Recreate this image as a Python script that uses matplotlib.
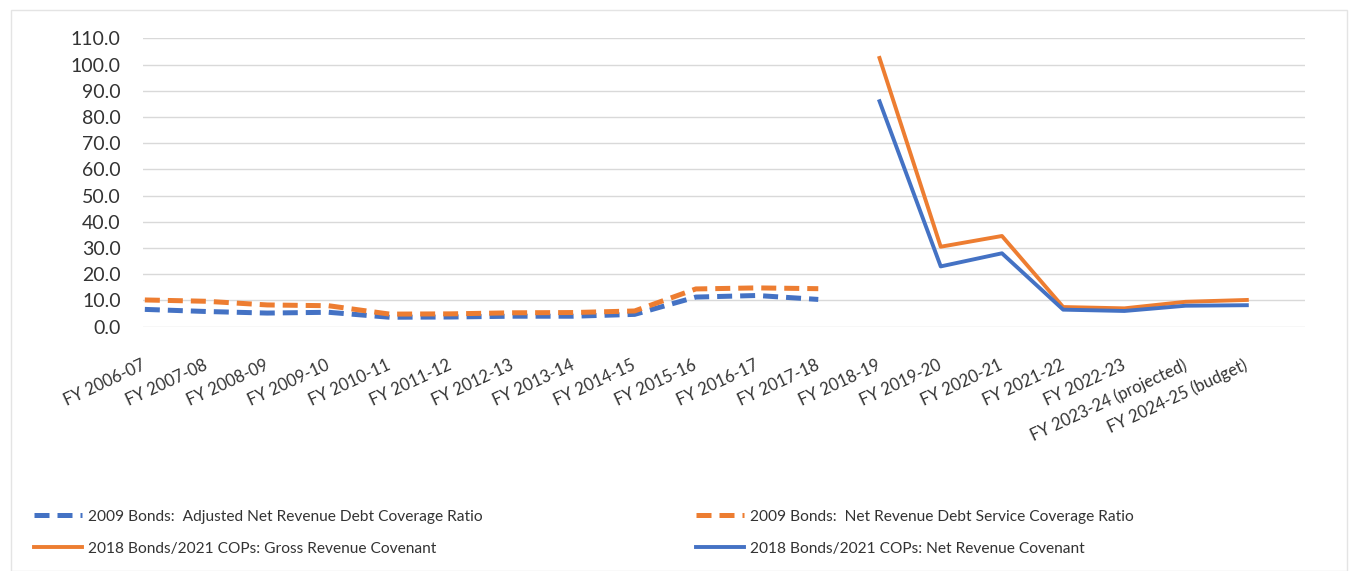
import numpy as np
import matplotlib.pyplot as plt
from matplotlib.ticker import FormatStrFormatter
from matplotlib.patches import Rectangle

plt.rcParams['font.family'] = ['Lato', 'DejaVu Sans']

years = ["FY 2006-07", "FY 2007-08", "FY 2008-09", "FY 2009-10", "FY 2010-11",
         "FY 2011-12", "FY 2012-13", "FY 2013-14", "FY 2014-15", "FY 2015-16",
         "FY 2016-17", "FY 2017-18", "FY 2018-19", "FY 2019-20", "FY 2020-21",
         "FY 2021-22", "FY 2022-23", "FY 2023-24 (projected)", "FY 2024-25 (budget)"]

# 2009 bonds (through FY 2017-18)
adjusted_net_2009 = [6.6, 5.8, 5.2, 5.5, 3.6, 3.7, 4.0, 4.0, 4.7, 11.3, 11.9, 10.4]
net_service_2009 = [10.2, 9.7, 8.3, 8.0, 4.8, 4.9, 5.3, 5.4, 6.0, 14.4, 14.8, 14.5]

# 2018 bonds / 2021 COPs (from FY 2018-19)
gross_2018 = [102.5, 30.5, 34.6, 7.5, 7.0, 9.5, 10.2]
net_2018 = [86.0, 23.0, 28.0, 6.5, 6.0, 8.0, 8.2]

blue = "#4472C4"
orange = "#ED7D31"

x = np.arange(len(years))
x_old = x[:len(adjusted_net_2009)]
x_new = x[len(years) - len(gross_2018):]

fig = plt.figure(figsize=(13.55, 5.71), dpi=100)
fig.patches.append(Rectangle((11 / 1355, 0), 1336 / 1355, 1 - 10 / 571,
                             transform=fig.transFigure, fill=False,
                             edgecolor="#e4e4e4", linewidth=1))
ax = fig.add_axes([143 / 1355, 1 - 326.7 / 571, (1305 - 143) / 1355, (326.7 - 38.3) / 571])

l1, = ax.plot(x_old, adjusted_net_2009, color=blue, linewidth=3.6, dashes=(3, 1.6),
              dash_capstyle="butt",
              label="2009 Bonds:  Adjusted Net Revenue Debt Coverage Ratio")
l2, = ax.plot(x_old, net_service_2009, color=orange, linewidth=3.6, dashes=(3, 1.6),
              dash_capstyle="butt",
              label="2009 Bonds:  Net Revenue Debt Service Coverage Ratio")
l3, = ax.plot(x_new, gross_2018, color=orange, linewidth=2.8,
              label="2018 Bonds/2021 COPs: Gross Revenue Covenant")
l4, = ax.plot(x_new, net_2018, color=blue, linewidth=2.8,
              label="2018 Bonds/2021 COPs: Net Revenue Covenant")

ax.set_xlim(-0.03, 18.95)
ax.set_ylim(0, 110)
ax.set_yticks(np.arange(0, 111, 10))
ax.yaxis.set_major_formatter(FormatStrFormatter("%.1f"))
ax.set_xticks(x)
ax.set_xticklabels(years, rotation=25, ha="right", va="center", rotation_mode="anchor")
ax.tick_params(axis="x", length=0, pad=27, labelsize=12, colors="#333333")
ax.tick_params(axis="y", length=0, pad=16, labelsize=14, colors="#333333")
ax.grid(axis="y", color="#d9d9d9", linewidth=1)
ax.set_axisbelow(True)
for s in ax.spines.values():
    s.set_visible(False)

leg_kw = dict(frameon=False, fontsize=11.2, handlelength=3.1, handletextpad=0.4,
              labelspacing=1.15, borderpad=0, labelcolor="#333333", loc="upper left")
fig.legend(handles=[l1, l3], bbox_to_anchor=(26 / 1355, 1 - 502 / 571), **leg_kw)
fig.legend(handles=[l2, l4], bbox_to_anchor=(688 / 1355, 1 - 502 / 571), **leg_kw)

plt.savefig("out.png", dpi=100, facecolor="white")
